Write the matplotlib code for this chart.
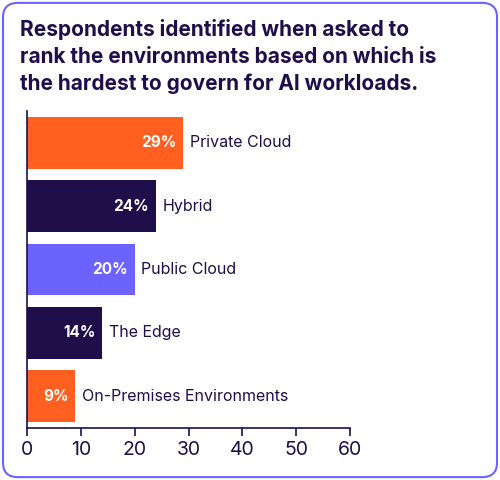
import matplotlib
matplotlib.use("Agg")
import matplotlib.pyplot as plt
from matplotlib.patches import FancyBboxPatch

categories = ["Private Cloud", "Hybrid", "Public Cloud", "The Edge", "On-Premises Environments"]
values = [29, 24, 20, 14, 9]
colors = ["#FF5F1F", "#1E0F4B", "#6C63FF", "#1E0F4B", "#FF5F1F"]
xticks = [0, 10, 20, 30, 40, 50, 60]
title = ("Respondents identified when asked to\n"
         "rank the environments based on which is\n"
         "the hardest to govern for AI workloads.")

navy = "#1E0F4B"
plt.rcParams["font.family"] = ["Inter", "DejaVu Sans"]

fig = plt.figure(figsize=(5, 4.8), dpi=100)
fig.patches.append(FancyBboxPatch((0.006, 0.006), 0.988, 0.988,
                                  boxstyle="round,pad=0,rounding_size=0.03",
                                  transform=fig.transFigure, fc="none",
                                  ec="#6C63FF", lw=1.5, zorder=10))
fig.text(0.04, 0.96, title, ha="left", va="top", fontsize=15,
         fontweight="bold", color=navy, linespacing=1.4)

ax = fig.add_axes([0.054, 0.109, 0.646, 0.659])
ys = list(range(len(values)))
ax.barh(ys, values, height=0.82, color=colors)
for y, v, c in zip(ys, values, categories):
    ax.text(v - 1.3, y, f"{v}%", ha="right", va="center", color="white",
            fontsize=11, fontweight="bold")
    ax.text(v + 1.2, y, c, ha="left", va="center", color=navy, fontsize=11.5)

ax.set_ylim(len(values) - 0.5, -0.5)
ax.set_xlim(0, 60)
ax.set_xticks(xticks)
ax.set_yticks([])
ax.tick_params(axis="x", colors=navy, labelsize=14, length=6, width=1.2)
for s in ["top", "right"]:
    ax.spines[s].set_visible(False)
for s in ["left", "bottom"]:
    ax.spines[s].set_color(navy)
    ax.spines[s].set_linewidth(1.2)

fig.savefig("out.png", dpi=100)
